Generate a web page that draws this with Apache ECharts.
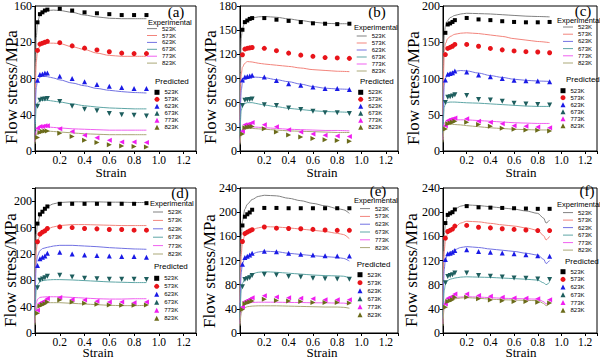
<!DOCTYPE html>
<html><head><meta charset="utf-8">
<script src="https://cdn.jsdelivr.net/npm/echarts@6/dist/echarts.min.js"></script>
<style>html,body{margin:0;padding:0;background:#fff}#c{width:600px;height:359px}</style>
</head><body><div id="c"></div><script>
// ---------- DATA ----------
const temps = ['523K','573K','623K','673K','773K','823K'];
const predStrain = [0.02,0.04,0.06,0.08,0.1,0.2,0.3,0.4,0.5,0.6,0.7,0.8,0.9];
const lineStrainStd = [0,0.01,0.02,0.04,0.06,0.1,0.15,0.2,0.3,0.4,0.5,0.6,0.7,0.8,0.9];
const lineStrainE = [0,0.01,0.02,0.04,0.06,0.1,0.15,0.2,0.3,0.4,0.5,0.6,0.7,0.8,0.85,0.9];
const lineStrainF = [0,0.01,0.02,0.04,0.06,0.1,0.15,0.2,0.3,0.4,0.5,0.6,0.7,0.8,0.85,0.87,0.9];
const xTicks = [0.2,0.4,0.6,0.8,1.0,1.2];

// Experimental (lines)
const expA = [
 [50,125,142,150,153,155,155.5,155,153,150,148,146.5,146,146,146],
 [40,98,110,116,118,119,119,118.5,115,112,108,105.5,104.5,104.5,104.5],
 [30,70,78,81.5,82.5,82,80.5,78.5,75,72,69,67,65.5,64.5,64],
 [20,48,53,55.5,56,56,55,54,52,50,48.5,47.5,47,46.5,46.5],
 [10,22,25,26,26.5,26.5,26,25.5,24.5,24,23.5,23,23,23,23],
 [8,18,20,21.5,22,22,21.5,21,20,19,18.5,18,18,18,18]
];
const expB = [
 [55,140,152,160,163,165,166.5,167,166,164,162,160,158.5,158,158],
 [35,95,104,109,111,110.5,109,108,106.5,105,103,101,100,99,98.5],
 [30,75,84,89,91,92,91.5,91,88.5,86,83,80,78,77,76.5],
 [20,50,56,59,60,60,58.5,57,55,53,51.5,50,49,48.5,48],
 [10,24,27,29,30,30,29.5,29,28,27,26.5,26,25.5,25.5,25],
 [8,22,25,27,28,28,27.5,27,26,25,24.5,24,23.5,23,23]
];
const expC = [
 [60,160,172,180,184,187,189,190,189.5,189,188,187,186,185.5,185],
 [50,135,148,155,158,161,162.5,163,162,160,158,155,153,151,149.5],
 [35,90,100,106,108,110,111,110.5,107.5,104,101.5,99,97.5,96.5,96],
 [25,60,65,67,67.5,67.5,67,66.5,66,65,64,63,62,61.5,61.5],
 [15,37,40,42,42.5,43,43,43,42,41,40,39,38.5,38,38],
 [12,33,36,37,37,36.5,36,35,33.5,32,31,30,29.5,29,29]
];
const expD = [
 [60,150,165,178,185,192,196,198,199,199,199,198.5,198.5,198,198],
 [50,125,138,148,153,158,161,163,164.5,164.5,164,163.5,163,163,163],
 [40,105,117,125,128,130,132,133,133,132,131,129.5,128.5,127.5,127],
 [25,65,73,78,79.5,80.5,81,81,80.5,79.5,78.5,77.5,77,76.5,76.5],
 [15,45,51,54,54.5,55,55,55,54,53,52,51.5,51.5,52,52],
 [12,36,41,44,45,46,46,46,45,44,43,42,41.5,41.5,42]
];
const expE = [
 [60,160,185,205,213,221,226,228,227,223,219,214.5,210.5,206,204,198],
 [50,130,150,162,166,171,174,176,175.5,174,172,170,168,165,163,156],
 [40,100,115,124,127,131,134,135.5,134.5,132,130,128,126.5,125,123.5,119],
 [25,70,82,90,94,98,100.5,101.5,100.5,99,97.5,96,95,94.5,94,91],
 [15,38,44,48,49.5,50.5,51,51,51,50.5,50.5,50,50,49.5,49.5,48],
 [12,33,38,42,43.5,44.5,45,45,45,44.5,44,43.5,43,43,42.5,41]
];
const expF = [
 [60,160,180,194,199,205,210,212,211,209,207,205,202,198,190,182,187],
 [50,135,152,165,169,175,182,185,184,181.5,179,177,174,170,161,154,160],
 [40,105,120,131,134,138,141.5,143,141.5,139,137,135,132,129,122,115,120],
 [25,70,80,87,89,91,92.5,93,92.5,92,91,90,89,87.5,83,80,84],
 [15,48,54,57,58,59,59.5,60,59.5,58.5,57.5,57,56.5,56,52,48,52],
 [12,45,50,53.5,55,56.5,58,58.5,57.5,56,55,54.5,54,53.5,49,45,49]
];

// Predicted (symbols)
const predA = [
 [142,151,153,155,156,157,155,153,152,151,150,150,150],
 [111,118,119,120,121,119.5,116,113.5,111.5,109.5,108,107.5,107.5],
 [78,84.5,85,86,86,82.5,80,76.5,73.5,71.5,70,69,69],
 [49.5,56,57,57.5,58,54.5,49.5,46,44.5,41.5,40,39.5,38.5],
 [25,27,27,28,28,24.5,21.5,17.5,14.5,12,10,10,9.5],
 [15,20.5,21.5,22,22,19.5,16,12,9.5,7,5.5,5,4.5]
];
const predB = [
 [150.5,160,162,164,165,165,163,161.5,160,158.5,158,157.5,158],
 [119.5,126.5,127.5,128,128.5,127.5,124.5,121.5,119,117.5,116,115.5,115],
 [88,92,92.5,93,94,92,87.5,83.5,81.5,79.5,77.5,77.5,76.5],
 [56.5,63,63.5,64,64.5,57.5,56.5,53.5,51.5,49.5,47.5,47.5,46.5],
 [24.5,32.5,33,33.5,35.5,32.5,30,26.5,23.5,21,19.5,18.5,18],
 [21,29,29.5,30,30.5,27.5,23.5,20,17.5,15.5,14,13,12]
];
const predC = [
 [163,174.5,176,178,180.5,183.5,181.5,180.5,179,178,177.5,177.5,178],
 [133,141.5,143,144.5,147,147,144.5,141.5,139.5,138,137,136.5,135.5],
 [98,106,107,108,110.5,109,105,102.5,100,97.5,97,96.5,95.5],
 [67,74,75,76,77.5,76.5,71,70.5,68.5,66,65,64,63.5],
 [35,42,43.5,44,45.5,44.5,41,39.5,37.5,35,34,33,32],
 [30.5,37.5,38.5,39.5,41,39.5,36.5,34,31.5,30,29,28.5,27.5]
];
const predD = [
 [166,180,184,188.5,192,196,196,196,196,196,196,196,197],
 [138.5,150,153,155,158.5,161,160,158.5,158,157,157,156,156],
 [102.5,112.5,115,117,121,122.5,120,118.5,117.5,117,116,116,115],
 [68.5,80,82,84,86,87.5,85,83,82.5,81.5,81.5,81.5,81],
 [34.5,45,47,49,52.5,54,51,50,48,47,47,46,47],
 [30,41,43,44.5,47,50,47,45,43.5,42.5,42,42,42.5]
];
const predE = [
 [178,192.5,196.5,199.5,204,207,207,206.5,206.5,206.5,206.5,206.5,206.5],
 [151.5,164.5,167,169,171,175.5,173.5,173,172.5,171.5,170.5,170,170],
 [114,125,127,129,132,135.5,134.5,132,130.5,129,128,127.5,127.5],
 [76.5,88.5,90,91.5,95,97,96,93.5,92.5,90.5,90,89.5,89],
 [43,52,54,56,58.5,61.5,59.5,58.5,57.5,56.5,55,55,55],
 [39,48.5,50,51.5,53,56,54,53,52,50.5,50.5,50.5,49.5]
];
const predF = [
 [182,195.5,198,200,204.5,210,208,207.5,207,206.5,206,205.5,205.5],
 [157,168,170,172,177,178,175,174,172.5,171.5,170.5,169.5,169.5],
 [121.5,131,132,133.5,136.5,138,135,133.5,132.5,131,129.5,128,127],
 [83,93.5,95,96.5,99.5,99.5,95,94,92.5,91,90.5,89.5,88.5],
 [48,57.5,59,60.5,64.5,64.5,62,61,59,58,57.5,56.5,55],
 [42.5,52,53.5,55,59,59,56.5,54.5,53.5,52,52,51,49.5]
];

// ---------- STYLE / LAYOUT ----------
const lineColors = ['#808080','#f2847c','#7272e2','#5ea6a6','#f060f0','#aaa878'];
const predColors = ['#000000','#e8141a','#1a1ae6','#1e5e5e','#f01ef0','#6b6b1a'];
const syms = ['rect','circle','triangle','triangle','triangle','triangle'];
const symSizes = [4,5,5,5,5,5];
const symRot = [0,0,0,180,90,-90];
const serif = '"Liberation Serif","Times New Roman",serif';
const sans = '"Liberation Sans",Arial,sans-serif';

const panels = [
 {tag:'(a)', exp:expA, pred:predA, ls:lineStrainStd, ymax:160, yint:40, left:35, top:4, w:161, h:147,
  tagPos:[176,12], yt:[11,87], st:[111,172.5], eT:[148,22], eL:[147,28.6,6.9], pT:[155,81], pL:[157,92.3,7]},
 {tag:'(b)', exp:expB, pred:predB, ls:lineStrainStd, ymax:180, yint:30, left:240, top:4, w:158, h:147,
  tagPos:[377,12], yt:[210,87], st:[322,172.5], eT:[354,27], eL:[356.7,36,7], pT:[360,81], pL:[360.7,92.3,7]},
 {tag:'(c)', exp:expC, pred:predC, ls:lineStrainStd, ymax:200, yint:50, left:443, top:4, w:162, h:147,
  tagPos:[583,11], yt:[413,88], st:[521,172.5], eT:[557,20.5], eL:[563,27,7.2], pT:[566,79.3], pL:[563,90.7,7]},
 {tag:'(d)', exp:expD, pred:predD, ls:lineStrainStd, ymax:220, yint:40, left:35, top:188, w:161, h:145,
  tagPos:[180,193], yt:[10,270], st:[98,352.5], eT:[150,203.5], eL:[153,212,8.4], pT:[154,266.3], pL:[156.7,278.3,8]},
 {tag:'(e)', exp:expE, pred:predE, ls:lineStrainE, ymax:240, yint:40, left:240, top:188, w:158, h:145,
  tagPos:[378,191], yt:[209,271], st:[322,352.5], eT:[354,200.3], eL:[360,208.6,7.8], pT:[356.7,264], pL:[360,274.7,8]},
 {tag:'(f)', exp:expF, pred:predF, ls:lineStrainF, ymax:240, yint:40, left:443, top:188, w:162, h:145,
  tagPos:[587,191], yt:[411,270], st:[521,352.5], eT:[557,204.5], eL:[563,212.6,7.5], pT:[565,261.7], pL:[563,271.7,7.7]}
];

const grid = [], xAxis = [], yAxis = [], series = [], legend = [], graphic = [];
panels.forEach((p, i) => {
  grid.push({left:p.left, top:p.top, width:p.w, height:p.h, show:true, borderColor:'#000', borderWidth:1, backgroundColor:'transparent'});
  xAxis.push({gridIndex:i, type:'value', min:0, max:1.3, interval:0.2,
    axisLine:{show:true, onZero:false, lineStyle:{color:'#000', width:1}},
    axisTick:{show:true, inside:false, length:3, lineStyle:{color:'#000'}},
    axisLabel:{margin:3, color:'#000', fontFamily:serif, fontSize:11.5,
      formatter: v => xTicks.some(t => Math.abs(t - v) < 1e-6) ? v.toFixed(1) : ''},
    splitLine:{show:false}});
  const lastTick = Math.floor(p.ymax / p.yint) * p.yint;
  yAxis.push({gridIndex:i, type:'value', min:0, max:p.ymax, interval:p.yint,
    axisLine:{show:true, onZero:false, lineStyle:{color:'#000', width:1}},
    axisTick:{show:true, inside:false, length:3, lineStyle:{color:'#000'}},
    axisLabel:{margin:3, color:'#000', fontFamily:serif, fontSize:12,
      formatter: v => v > lastTick + 1e-6 ? '' : String(v)},
    splitLine:{show:false}});
  temps.forEach((t, k) => {
    series.push({type:'line', name:t, xAxisIndex:i, yAxisIndex:i,
      data:p.ls.map((x, j) => [x, p.exp[k][j]]),
      symbol:'none', showSymbol:false, smooth:0.3, smoothMonotone:'x', lineStyle:{width:1, color:lineColors[k]},
      itemStyle:{color:lineColors[k]}, z:2, silent:true});
  });
  temps.forEach((t, k) => {
    series.push({type:'scatter', name:'P' + t, xAxisIndex:i, yAxisIndex:i,
      data:predStrain.map((x, j) => [x, p.pred[k][j]]),
      symbol:syms[k], symbolSize:symSizes[k], symbolRotate:symRot[k],
      itemStyle:{color:predColors[k], opacity:1}, z:3, silent:true});
  });
  legend.push({orient:'vertical', left:p.eL[0], top:p.eL[1] - 3, itemWidth:10, itemHeight:1, icon:'rect',
    itemGap:p.eL[2] - 6, padding:0, selectedMode:false, data:temps,
    textStyle:{fontSize:6, lineHeight:6, fontFamily:sans, color:'#000'}});
  legend.push({orient:'vertical', left:p.pL[0] - 2.5, top:p.pL[1] - 3, itemWidth:5, itemHeight:5,
    itemGap:p.pL[2] - 6, padding:0, selectedMode:false, data:temps.map(t => 'P' + t),
    formatter: n => n.slice(1),
    textStyle:{fontSize:6, lineHeight:6, fontFamily:sans, color:'#000'}});
  graphic.push({type:'text', x:p.tagPos[0], y:p.tagPos[1], style:{text:p.tag, font:'15px ' + serif, fill:'#000', textAlign:'center', textVerticalAlign:'middle'}});
  graphic.push({type:'text', x:p.yt[0], y:p.yt[1], rotation:Math.PI / 2, style:{text:'Flow stress/MPa', font:'17px ' + serif, fill:'#000', textAlign:'center', textVerticalAlign:'middle'}});
  graphic.push({type:'text', x:p.st[0], y:p.st[1], style:{text:'Strain', font:'13px ' + serif, fill:'#000', textAlign:'center', textVerticalAlign:'middle'}});
  graphic.push({type:'text', x:p.eT[0], y:p.eT[1], style:{text:'Experimental', font:'7.5px ' + sans, fill:'#000', textAlign:'left', textVerticalAlign:'middle'}});
  graphic.push({type:'text', x:p.pT[0], y:p.pT[1], style:{text:'Predicted', font:'8px ' + sans, fill:'#000', textAlign:'left', textVerticalAlign:'middle'}});
});

const chart = echarts.init(document.getElementById('c'), null, {renderer:'svg', width:600, height:359});
chart.setOption({animation:false, backgroundColor:'#fff', grid, xAxis, yAxis, series, legend, graphic});
</script></body></html>
